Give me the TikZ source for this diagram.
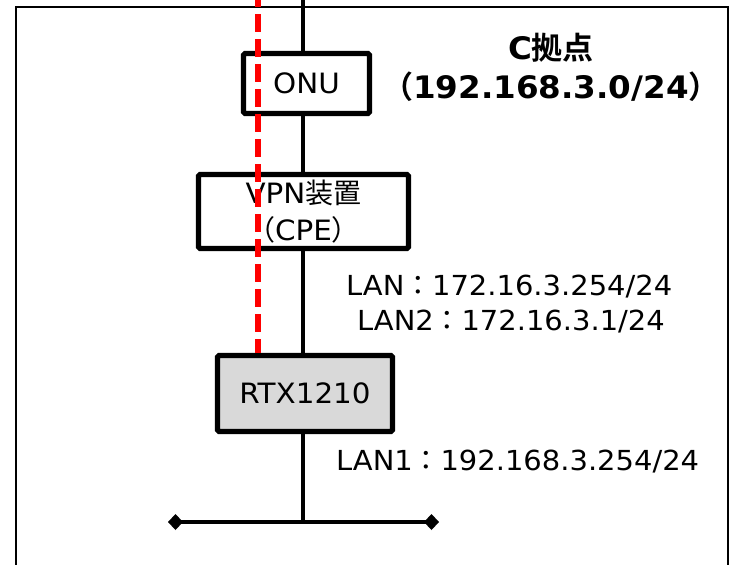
\documentclass[tikz,border=0pt]{standalone}
\usepackage{fontspec}
\setmainfont{DejaVu Sans}[FakeStretch=1.05]
\newfontfamily\jp{Noto Sans CJK JP}[BoldFont={Noto Sans CJK JP Bold}]
\usetikzlibrary{arrows.meta}
\newcommand\J[1]{{\jp #1}}
\definecolor{rtxgray}{HTML}{D9D9D9}
\begin{document}
\begin{tikzpicture}[x=1pt,y=-1pt,
  dev/.style={draw,line width=5.2pt,rounded corners=1.5pt,inner sep=0pt,
    font=\fontsize{28}{37}\selectfont,align=center},
  wire/.style={line width=3.8pt},
  lbl/.style={inner sep=0pt,anchor=base west,font=\fontsize{27.6}{33}\selectfont},
  diam/.tip={Diamond[length=15pt,width=16pt]},
]
\useasboundingbox (0,0) rectangle (732,565);
% frame
\draw[line width=2.2pt] (16,566) -- (16,7) -- (728,7) -- (728,566);
% devices
\node[dev,minimum width=126pt,minimum height=60pt] (onu) at (306.5,83.5) {ONU};
\node[dev,minimum width=210pt,minimum height=74pt] (vpn) at (303.5,211.5) {VPN\J{装置}\\\J{（}CPE\J{）}};
\node[dev,fill=rtxgray,minimum width=175pt,minimum height=76pt] (rtx) at (305,393.5) {RTX1210};
% coordinates
\coordinate (trunk) at (303,0);
\coordinate (redtop) at (258,0);
\coordinate (busL) at (168,522);
\coordinate (busR) at (439,522);
\coordinate (busM) at (303,522);
% wires
\draw[wire] (trunk) -- (onu.north -| trunk);
\draw[wire] (onu.south -| trunk) -- (vpn.north -| trunk);
\draw[wire] (vpn.south -| trunk) -- (rtx.north -| trunk);
\draw[wire] (rtx.south -| trunk) -- (busM);
\draw[wire,diam-diam] (busL) -- (busR);
% red dashed
\draw[red,line width=5.5pt,dash pattern=on 18pt off 7pt,dash phase=11pt] (redtop) -- (rtx.north -| redtop);
% title
\node[align=center,inner sep=0pt,font=\bfseries\fontsize{31}{39}\selectfont] (title) at (551,67) {C\J{拠点}\\\J{（}192.168.3.0/24\J{）}};
% labels
\node[lbl] (lan) at (346,295) {LAN\J{：}172.16.3.254/24};
\node[lbl] (lan2) at (357,330) {LAN2\J{：}172.16.3.1/24};
\node[lbl] (lan1) at (336,470) {LAN1\J{：}192.168.3.254/24};
\end{tikzpicture}
\end{document}
